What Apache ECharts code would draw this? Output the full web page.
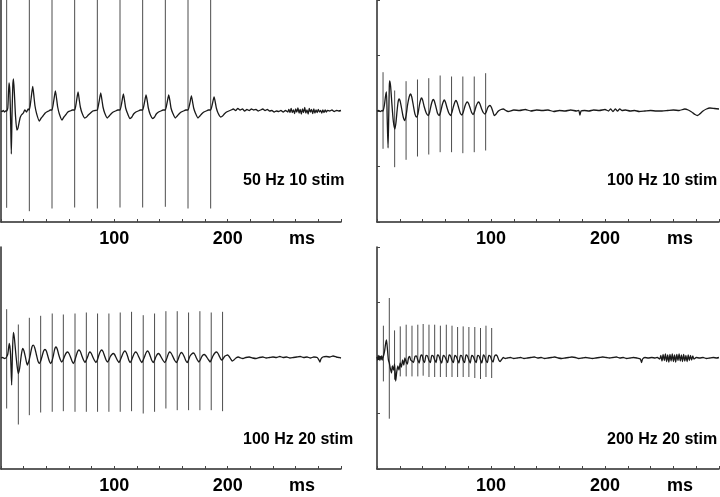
<!DOCTYPE html>
<html>
<head>
<meta charset="utf-8">
<script src="https://cdn.jsdelivr.net/npm/echarts@6/dist/echarts.min.js"></script>
<style>
  html, body { margin: 0; padding: 0; background: #fff; }
  #chart { width: 720px; height: 497px; }
</style>
</head>
<body>
<div id="chart"></div>
<script>
// panel captions and x axis text
const panelLabels = ['50 Hz 10 stim', '100 Hz 10 stim', '100 Hz 20 stim', '200 Hz 20 stim']
const xTickLabels = [100, 200]
const xUnit = 'ms'

// stimulus artefacts (ms, top, bottom)
const stimTimes1 = [5, 25, 45, 65, 85, 105, 125, 145, 165, 185]
const stimTop1 = [111, 111, 111, 111, 111, 111, 111, 111, 111, 111]
const stimBottom1 = [-96.8, -100.2, -97.5, -96.5, -97.5, -96.5, -96.5, -95.8, -97.5, -97.5]

const stimTimes2 = [5.3, 15.5, 25.5, 35.5, 45.4, 55.4, 65.4, 75.3, 85.3, 95.3]
const stimTop2 = [38.8, 20.5, 29.8, 31.5, 32.8, 35.5, 34.5, 34.5, 34.5, 37.8]
const stimBottom2 = [-37.8, -56.2, -48.8, -45.5, -43.5, -41.2, -41.2, -42.2, -41.2, -39.5]

const stimTimes3 = [5, 15.3, 25, 35, 45.2, 55, 65.3, 75.3, 85.2, 95.2, 105.2, 115.2, 125.5, 135.5, 145.5, 155.5, 165.5, 175.5, 185.5, 195.5]
const stimTop3 = [48.8, 33.5, 40.2, 42.2, 44.5, 43.5, 44.5, 45.5, 44.5, 44.5, 45.5, 46.2, 42.8, 44.5, 46.8, 46.8, 45.5, 46.8, 45.5, 46.2]
const stimBottom3 = [-50.5, -66.5, -57.2, -54.5, -53.8, -53.2, -53.8, -53.8, -53.8, -53.8, -53.8, -53.2, -55.5, -53.8, -50.5, -52.2, -52.2, -52.2, -52.2, -53.2]

const stimTimes4 = [5.6, 10.8, 15.4, 20.4, 25.6, 30.7, 35.8, 40.5, 45.6, 50.6, 55.6, 60.8, 65.8, 70.7, 75.6, 80.6, 85.8, 90.8, 95.6, 100.6]
const stimTop4 = [32.3, 60, 27.6, 31.6, 33.3, 32.3, 33.3, 34, 33.3, 33.3, 32.3, 33.3, 32.3, 31, 31.6, 31, 31, 30, 32.3, 30]
const stimBottom4 = [-23.4, -60.7, -21.7, -18.4, -18.4, -18.4, -18.4, -17.7, -19, -19, -19, -19, -19, -19, -19, -19, -20, -21, -19, -20]

// recorded traces [ms, amplitude]
const trace1 = [
  [0, 0], [1, -0.5], [2, 0.5], [3, -1], [4, 0], [5, 0], [6, 3], [6.6, 18], [7.1, 28], [7.8, 20], [8.5, -10], [9.1, -43], [9.7, -5],
  [10.4, 25], [11, 32], [11.8, 18], [12.8, -5], [14, -19], [15, -17], [16.8, -7], [18, -4], [19.7, -2], [21, 1], [22.5, -1], [24, 2],
  [25, 1], [26.5, 12], [28, 24.5], [29.2, 13], [30, 5], [31.5, -3], [33.8, -10], [35.5, -7], [37, -5], [39, -2], [40.3, -1], [42, 0], [43.5, 1],
  [45, 1], [46.5, 10], [48, 20], [49.2, 11], [50, 4], [51.5, -3], [53.8, -9], [55.5, -6], [57, -4], [59, -1], [61, 0], [63, 1],
  [65, 1], [66.5, 9], [68, 19], [69.2, 10], [70, 4], [71.5, -2], [73.8, -7], [75.5, -6], [77, -4], [79, -2], [81, 0], [83, 0.5],
  [85, 1], [86.5, 9], [88, 18], [89.2, 10], [90, 4], [91.5, -2], [93.8, -7], [95.5, -5], [97, -3], [99, -1], [101, 0], [103, 1],
  [105, 1], [106.5, 8], [108, 17], [109.2, 9], [110, 3], [111.5, -2], [113.8, -7.5], [115.5, -6], [117, -3], [119, -1], [121, 0], [123, 1],
  [125, 1], [126.5, 8], [128, 16], [129.2, 9], [130, 3], [131.5, -3], [133.8, -7.5], [135.5, -6], [137, -3], [139, -1], [141, 0], [143, 1],
  [145, 1], [146.5, 8], [148, 16], [149.2, 9], [150, 3], [151.5, -2], [153.8, -7], [155.5, -5], [157, -3], [159, -1], [161, 0], [163, 1],
  [165, 1], [166.5, 7], [168, 15], [169.2, 8], [170, 3], [171.5, -2], [173.8, -7], [175.5, -5], [177, -3], [179, -1], [181, 0], [183, 1],
  [185, 1], [186.5, 7], [188, 14], [189.2, 8], [190, 3], [191.5, -2], [193.8, -6], [195.5, -5], [197, -3], [199, -1], [201, 0],
  [203, 1], [205, 2], [207, 0.5], [209, 2.5], [211, 1], [213, 2], [215, 0], [217, 1.5], [219, 0.5], [221, 2], [223, 1], [225, 1.5],
  [227, 0], [229, 1], [231, 2], [233, 0.5], [235, 1.5], [237, 0], [239, 0.5], [241, -1], [243, 0], [245, -0.5], [247, 0.5], [249, -1],
  [251, 0.5], [253, -1], [254, 1.5], [255, -1.5], [256, 2.5], [257, -1.5], [258, 1], [259, -2.5], [260, 2], [261, -1], [262, 3],
  [263, -2], [264, 1.5], [265, -3], [266, 2], [267, -1.5], [268, 3.5], [269, -2], [270, 1], [271, -3], [272, 2.5], [273, -1],
  [274, 1.5], [275, -2.5], [276, 2], [277, -2], [278, 1], [279, -1.5], [280, 1.5], [281, -1], [282, 0.5], [283, -2], [284, 1],
  [285, -1.5], [286, 1], [287, -1], [288, 0.5], [290, 0], [292, 1], [294, -0.5], [296, 0.5], [298, 0], [300, 0.5]
]

const trace2 = [
  [0, 0], [1.5, 0.5], [3, -0.5], [4.5, 0.5], [5.3, 0],
  [6.5, 6], [7.5, 15], [8.3, 19], [9, -10], [9.7, -37], [10.3, -5], [10.8, 25], [11.2, 30], [12, 24], [13, 8], [14.3, -10], [15.6, -18],
  [16.6, -12], [17.6, 0], [18.5, 9], [19.3, 12], [20.3, 10], [21.5, 3], [23, -6], [24.4, -9.5], [25.6, -4], [26.8, 6], [28.2, 14],
  [29.4, 17], [30.5, 14], [31.8, 6], [33.3, -3], [34.7, -6], [35.9, -3], [37.2, 6], [38.2, 11], [39, 13], [40, 11], [41.5, 4],
  [43.2, -2], [44.9, -4.5], [46.2, -1], [47.5, 6], [48.5, 10], [49.3, 11.5], [50.3, 10], [51.7, 4], [53, -2], [54.5, -4.5],
  [55.8, -1], [57.2, 6], [58.2, 9.5], [58.9, 11], [60, 9], [61.5, 3], [63, -2], [64.6, -4.5], [65.8, -1], [67.2, 5], [68.3, 9],
  [69.2, 10.5], [70.3, 8.5], [71.7, 3], [73, -2], [74.5, -4], [75.7, -1], [77.2, 5], [78.3, 8], [79.2, 9], [80.3, 7.5], [81.7, 3],
  [83, -1.5], [84.4, -3.5], [85.6, -0.5], [87, 5], [88.2, 8], [89.2, 9], [90.3, 7], [91.8, 2], [93.2, -1.5], [94.7, -3], [95.8, -1],
  [97, 3], [98.2, 5], [99.1, 5.5], [100.2, 4], [101.5, 0], [102.9, -4.5], [104.5, -3], [106.5, 0], [108.8, 1.5], [110.8, 2],
  [113, 0.5], [115, -0.5], [120, 1], [125, 0.5], [130, 1.5], [135, 0], [140, 1], [145, 0.5], [150, 1], [155, -0.5], [160, 0.5],
  [165, 0], [170, 1], [175, 0], [177, 0.5], [178, -4], [179, 0], [182, 0.5], [186, 0], [190, 1], [195, 0.5], [200, 1.5], [203, 0],
  [205, 2], [207, -0.5], [209, 2], [211, 0], [213, 2], [215, 0.5], [218, 1], [222, 0], [226, 0.5], [230, -0.5], [235, 0], [240, 0.5],
  [245, 0], [250, 0], [255, 0.5], [260, 1], [265, 0.5], [270, 2], [273, 1], [276, -1], [279, -3.5], [281, -4.5], [283, -3], [286, 0],
  [289, 2], [292, 3], [296, 2.5], [300, 2]
]

const trace3 = [
  [0, 0], [1.5, 0.5], [3, -0.5], [4.5, 0], [5, 0],
  [6, 4], [7.3, 14.5], [8.4, 4], [9.4, -27], [10.1, 5], [10.9, 25.5], [11.8, 20], [13, 5], [14.2, -8], [15.3, -15.5], [16.5, -10],
  [17.8, 2], [19.1, 9.5], [20.3, 7], [21.7, 0], [23.2, -7], [24.6, -3], [26, 4], [27.3, 11], [28.5, 12.8], [29.8, 10], [31.3, 3],
  [32.6, -3], [33.8, -5.5], [35, -3], [36.3, 2], [37.6, 7], [38.8, 8.5], [40, 7], [41.3, 2], [42.6, -3], [43.8, -5.5], [45, -3],
  [46.3, 3], [47.4, 9], [48.5, 11], [49.6, 9], [51, 3], [52.3, -1.5], [53.5, -4], [54.8, -2], [56.2, 2], [57.5, 5], [58.8, 6],
  [60, 4.5], [61.3, 1], [62.6, -3], [63.8, -5.5], [65, -3], [66.3, 2], [67.6, 6.5], [68.8, 8], [70, 6.5], [71.4, 2], [72.8, -2],
  [74.1, -4.5], [75.3, -2], [76.7, 2], [77.6, 5], [78.5, 6], [79.7, 4.5], [81, 1], [82.5, -2.5], [83.8, -4.5], [85, -2], [86.4, 3],
  [87.6, 6.5], [88.8, 8], [90, 6.5], [91.4, 2], [92.7, -2], [94, -4], [95.2, -2], [96.5, 1.5], [97.8, 3.5], [99, 4.5], [100.2, 3.5],
  [101.5, 0.5], [102.8, -2.5], [104.1, -4.5], [105.3, -2], [106.7, 2], [108, 5.5], [109.3, 7], [110.5, 5.5], [111.8, 1.5],
  [112.9, -2.5], [114, -4.5], [115.3, -2], [116.6, 2], [117.8, 5], [119, 6], [120.2, 4.5], [121.6, 1], [123, -2.5], [124.3, -4.5],
  [125.5, -2], [126.9, 2], [128.1, 5.5], [129.3, 7], [130.5, 5.5], [131.8, 1.5], [133.1, -2.5], [134.4, -4.5], [135.6, -2],
  [136.8, 1.5], [137.8, 3.5], [138.8, 4.5], [140, 3.5], [141.5, 0.5], [143, -2.5], [144.6, -4.5], [145.8, -2], [147, 2], [148, 5],
  [149, 6], [150.3, 4.5], [151.8, 1], [153.3, -2.5], [154.8, -4.5], [156, -2], [157.3, 2], [158.3, 4.5], [159.3, 5.5], [160.5, 4],
  [161.8, 1], [163, -2.5], [164.3, -4.5], [165.5, -2], [166.8, 2], [168.3, 4], [169.6, 5], [170.8, 4], [172, 1], [173.3, -2],
  [174.6, -4], [175.8, -2], [177, 1], [178.2, 3], [179.3, 3.5], [180.5, 2.5], [182, 0], [183.3, -2], [184.5, -4], [185.7, -1.5],
  [187, 2], [188.7, 5], [190.2, 6], [191.5, 4.5], [193, 1], [194.6, -2], [195.8, -1], [197.2, 1.5], [198.6, 2.5], [200, 3],
  [201.3, 1.5], [202.7, -1], [204, -3], [205.5, -2], [207.3, 0], [209.4, 1], [211.5, 0], [213.5, -0.5],
  [216, 0.5], [219, 1], [222, 0], [225, -0.5], [228, 0.5], [231, 1], [234, 0], [237, 0.5], [240, 1], [243, 0.5], [246, 1.5],
  [249, 0.5], [252, 1], [255, 0], [258, 0.5], [261, 1], [264, 1.5], [267, 0.5], [270, 1], [273, 0], [276, 1], [279, 0.5],
  [280.5, -2], [281.4, -4], [282.3, -1], [284, 1], [287, 1.5], [290, 1], [293, 2], [296, 1], [298, 0.5], [300, 0]
]

const trace4 = [
  [0, 1], [0.5, -2], [1, 2.5], [1.5, -1.5], [2, 2], [2.5, -2.5], [3, 1.5], [3.5, -1], [4, 2], [4.5, -2], [5, 0], [5.6, 0],
  [6.5, 6], [7.5, 14], [8.3, 18], [9.2, 8], [10, -2], [10.8, -5], [11.6, -10], [12.7, -15], [13.5, -8], [14.5, -12], [15.4, -6],
  [16.4, -23], [17.3, -14], [18.3, -8], [19.3, -12], [20.4, -5], [21.4, -9], [22.5, -2], [23.5, -7], [24.5, 0], [25.6, -4],
  [26.6, -6], [27.6, 0], [28.6, 1.5], [29.6, -2], [30.7, -3], [32, -4.5], [33.3, 1.5], [34.5, 2],
  [35.8, -2], [37, -5], [38.3, 2], [39.5, 3], [40.5, -2], [41.7, -4.5], [43, 2.5], [44.3, 2],
  [45.6, -2.5], [46.8, -4.5], [48.1, 2.5], [49.3, 2], [50.6, -2], [51.8, -4.5], [53.1, 3], [54.3, 2],
  [55.6, -2.5], [56.8, -5], [58.1, 2.5], [59.4, 1.5], [60.8, -2], [62, -4.5], [63.3, 3], [64.5, 2],
  [65.8, -2.5], [67, -4.5], [68.3, 2.5], [69.5, 1.5], [70.7, -2], [71.9, -5], [73.2, 2.5], [74.4, 2],
  [75.6, -2.5], [76.8, -4.5], [78.1, 3], [79.3, 2], [80.6, -2], [81.8, -5], [83.1, 2.5], [84.4, 1.5],
  [85.8, -2.5], [87, -4.5], [88.3, 2.5], [89.5, 2], [90.8, -2], [92, -5], [93.3, 3], [94.5, 1.5],
  [95.6, -2.5], [96.8, -4.5], [98.1, 2.5], [99.3, 2], [100.6, -2], [101.8, -4], [103, 1.5], [104.3, 3], [105.5, 2],
  [106.8, -2], [108, -3.5], [109.3, -1.5], [110.8, 0.5], [112.5, -0.5], [114.5, 0],
  [117, 0.5], [120, -0.5], [123, 0], [126, 0.5], [129, -0.5], [132, 0], [135, 0.5], [138, 1], [141, 0], [144, 0.5], [147, -0.5],
  [150, 0], [153, 0.5], [156, 1], [159, 0], [162, -0.5], [165, 0], [168, 0.5], [171, 1], [174, 0.5], [177, -0.5], [180, 0],
  [183, 0.5], [186, 0], [189, -0.5], [192, 0], [195, 0.5], [198, 1], [201, 0.5], [204, 0], [207, 0.5], [210, 1], [213, 0],
  [216, 0.5], [219, -0.5], [222, 0], [225, 0.5], [228, 0], [231, -1], [232, -4.5], [233, -1], [235, 0.5], [238, 0], [241, 0.5],
  [244, 0], [246, 0.5], [248, -1], [249, 2.5], [250, -3], [251, 3.5], [252, -2.5], [253, 4], [254, -3.5], [255, 3], [256, -4],
  [257, 3.5], [258, -3], [259, 4], [260, -3.5], [261, 3], [262, -4], [263, 3.5], [264, -2.5], [265, 4], [266, -3], [267, 3],
  [268, -3.5], [269, 3.5], [270, -3], [271, 2.5], [272, -3.5], [273, 3], [274, -2.5], [275, 2.5], [276, -2], [277, 2], [278, -1],
  [280, 0.5], [283, 0], [286, 0.5], [289, -0.5], [292, 0], [295, 0.5], [298, 0], [300, 0.5]
]

const font = "'Liberation Sans', Arial, Helvetica, sans-serif"
const axisColor = '#2a2a2a'

const grids = [
  { left: 1, top: 0, width: 340, height: 222 },
  { left: 377, top: 0, width: 342, height: 222 },
  { left: 1, top: 247, width: 340, height: 222 },
  { left: 377, top: 247, width: 342, height: 222 }
].map((g) => ({ ...g, containLabel: false, outerBoundsMode: 'none' }))

const makeX = (i) => ({
  gridIndex: i,
  type: 'value',
  min: 0,
  max: 300,
  interval: 20,
  axisLine: { show: true, onZero: false, lineStyle: { color: axisColor, width: 1.5 } },
  axisTick: { show: true, inside: true, length: 3, lineStyle: { color: '#444' } },
  axisLabel: {
    margin: 8, fontSize: 18, fontWeight: 'bold', color: '#000', fontFamily: font,
    formatter: (v) => (xTickLabels.includes(v) ? String(v) : '')
  },
  splitLine: { show: false },
  name: xUnit,
  nameLocation: 'end',
  nameGap: -39,
  nameMoveOverlap: false,
  nameTextStyle: {
    fontSize: 18, fontWeight: 'bold', color: '#000', fontFamily: font,
    align: 'center', verticalAlign: 'top', padding: [8, 0, 0, 0]
  }
})

const makeY = (i, ticks) => ({
  gridIndex: i,
  type: 'value',
  min: -111,
  max: 111,
  interval: 55.5,
  axisLine: { show: true, onZero: false, lineStyle: { color: axisColor, width: 1.5 } },
  axisTick: { show: ticks, inside: true, length: 3, lineStyle: { color: '#444' } },
  axisLabel: { show: false },
  splitLine: { show: false }
})

const renderStim = (params, api) => {
  const a = api.coord([api.value(0), api.value(1)])
  const b = api.coord([api.value(0), api.value(2)])
  return {
    type: 'line',
    shape: { x1: a[0], y1: a[1], x2: b[0], y2: b[1] },
    style: { stroke: '#4d4d4d', lineWidth: 1 }
  }
}

const stims = [
  [stimTimes1, stimTop1, stimBottom1],
  [stimTimes2, stimTop2, stimBottom2],
  [stimTimes3, stimTop3, stimBottom3],
  [stimTimes4, stimTop4, stimBottom4]
]
const traces = [trace1, trace2, trace3, trace4]

const series = []
stims.forEach(([times, tops, bottoms], i) => {
  series.push({
    type: 'custom',
    xAxisIndex: i,
    yAxisIndex: i,
    renderItem: renderStim,
    encode: { x: 0, y: [1, 2] },
    data: times.map((t, k) => [t, tops[k], bottoms[k]]),
    silent: true,
    z: 2
  })
  series.push({
    type: 'line',
    xAxisIndex: i,
    yAxisIndex: i,
    data: traces[i],
    showSymbol: false,
    smooth: 0.2,
    lineStyle: { color: '#1a1a1a', width: 1.3 },
    silent: true,
    z: 3
  })
})

const titlePos = [
  { left: 243, top: 173 },
  { left: 607, top: 173 },
  { left: 243, top: 432 },
  { left: 607, top: 432 }
]

const chart = echarts.init(document.getElementById('chart'))
chart.setOption({
  animation: false,
  backgroundColor: '#fff',
  title: panelLabels.map((text, i) => ({
    text,
    ...titlePos[i],
    padding: 0,
    textStyle: { fontSize: 16, fontWeight: 'bold', color: '#000', fontFamily: font }
  })),
  grid: grids,
  xAxis: [0, 1, 2, 3].map(makeX),
  yAxis: [makeY(0, false), makeY(1, true), makeY(2, false), makeY(3, true)],
  series
})
</script>
</body>
</html>
